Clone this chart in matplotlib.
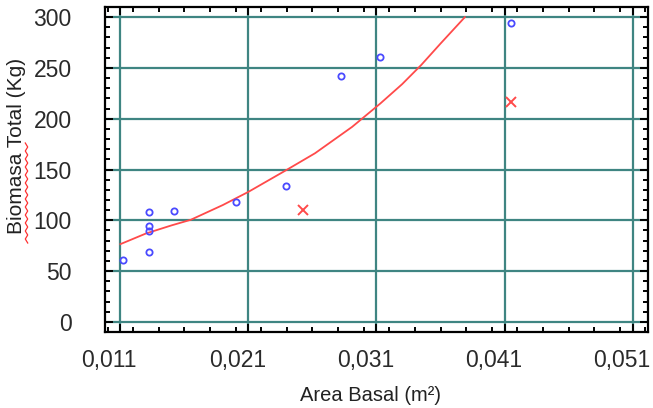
import matplotlib
matplotlib.use("Agg")
import matplotlib.pyplot as plt
import matplotlib.transforms as mtransforms
from matplotlib.lines import Line2D
from matplotlib.ticker import MultipleLocator
import numpy as np

# observed trees: basal area (m2) vs total biomass (kg)
area_obs = [0.0112, 0.0132, 0.0132, 0.0132, 0.0132, 0.0152, 0.0200, 0.0239, 0.0282, 0.0313, 0.0415]
biomasa_obs = [61, 108, 94, 89, 69, 109, 118, 134, 242, 261, 294]

# validation trees
area_val = [0.0253, 0.0415]
biomasa_val = [110, 216]

# fitted model curve
area_fit = [0.0110, 0.0130, 0.0150, 0.0165, 0.0190, 0.0210, 0.0239, 0.0262, 0.0291, 0.0313, 0.0330, 0.0345, 0.0360, 0.0379]
biomasa_fit = [76.5, 87, 95, 100.5, 115, 128, 149, 166, 192, 215, 234, 253, 274, 300]

xticks = [0.011, 0.021, 0.031, 0.041, 0.051]
xtick_labels = ["0,011", "0,021", "0,031", "0,041", "0,051"]
yticks = [0, 50, 100, 150, 200, 250, 300]

GRID = "#3f8582"

fig = plt.figure(figsize=(6.53, 4.08), dpi=100)
ax = fig.add_axes([0.1608, 0.1863, 0.8315, 0.7965])

ax.set_xlim(0.0098, 0.0522)
ax.set_ylim(-10, 310)

ax.set_xticks(xticks)
ax.set_xticklabels(xtick_labels)
ax.set_yticks(yticks)
ax.xaxis.set_minor_locator(MultipleLocator(0.002))
ax.yaxis.set_minor_locator(MultipleLocator(10))

ax.grid(True, which="major", color=GRID, linewidth=1.6)
ax.set_axisbelow(True)

ax.plot(area_fit, biomasa_fit, color="#ff4a4a", linewidth=1.3, zorder=3)
ax.plot(area_obs, biomasa_obs, linestyle="none", marker="o", markersize=4.5,
        markerfacecolor="none", markeredgecolor="#4a4aff", markeredgewidth=1.3, zorder=4)
ax.plot(area_val, biomasa_val, linestyle="none", marker="x", markersize=7,
        markeredgecolor="#ff4a4a", markeredgewidth=1.4, zorder=4)

for sp in ax.spines.values():
    sp.set_linewidth(1.6)
    sp.set_color("black")

tick_font = ["Liberation Sans", "DejaVu Sans"]
ax.tick_params(which="both", direction="in", top=True, right=True, width=1.4, colors="black")
ax.tick_params(which="major", length=6)
ax.tick_params(which="minor", length=3.5)
ax.tick_params(axis="y", pad=24)
ax.tick_params(axis="x", pad=12)
for lab in ax.get_xticklabels() + ax.get_yticklabels():
    lab.set_family(tick_font)
    lab.set_fontsize(16.5)
    lab.set_color("#2a2a2a")

# x labels sit a little left of their ticks
shift = mtransforms.ScaledTranslation(-11 / 100, 0, fig.dpi_scale_trans)
for lab in ax.get_xticklabels():
    lab.set_transform(lab.get_transform() + shift)

fig.text(0.568, 0.030, "Area Basal (m²)", family=["Liberation Sans", "DejaVu Sans"],
         fontsize=14.5, ha="center", va="center", color="#222222")
fig.text(0.026, 0.642, "Biomasa Total (Kg)", family=["Liberation Sans", "DejaVu Sans"],
         fontsize=15, ha="center", va="center", rotation=90, color="#222222")

# spell-check squiggle under the first word of the y label
yy = np.linspace(143, 243, 26)
xx = 26.5 + np.where(np.arange(len(yy)) % 2 == 0, -1.2, 1.2)
fig.add_artist(Line2D(xx / 653, 1 - yy / 408, color="#ff3030", linewidth=0.9,
                      transform=fig.transFigure))

fig.savefig("out.png", dpi=100)
